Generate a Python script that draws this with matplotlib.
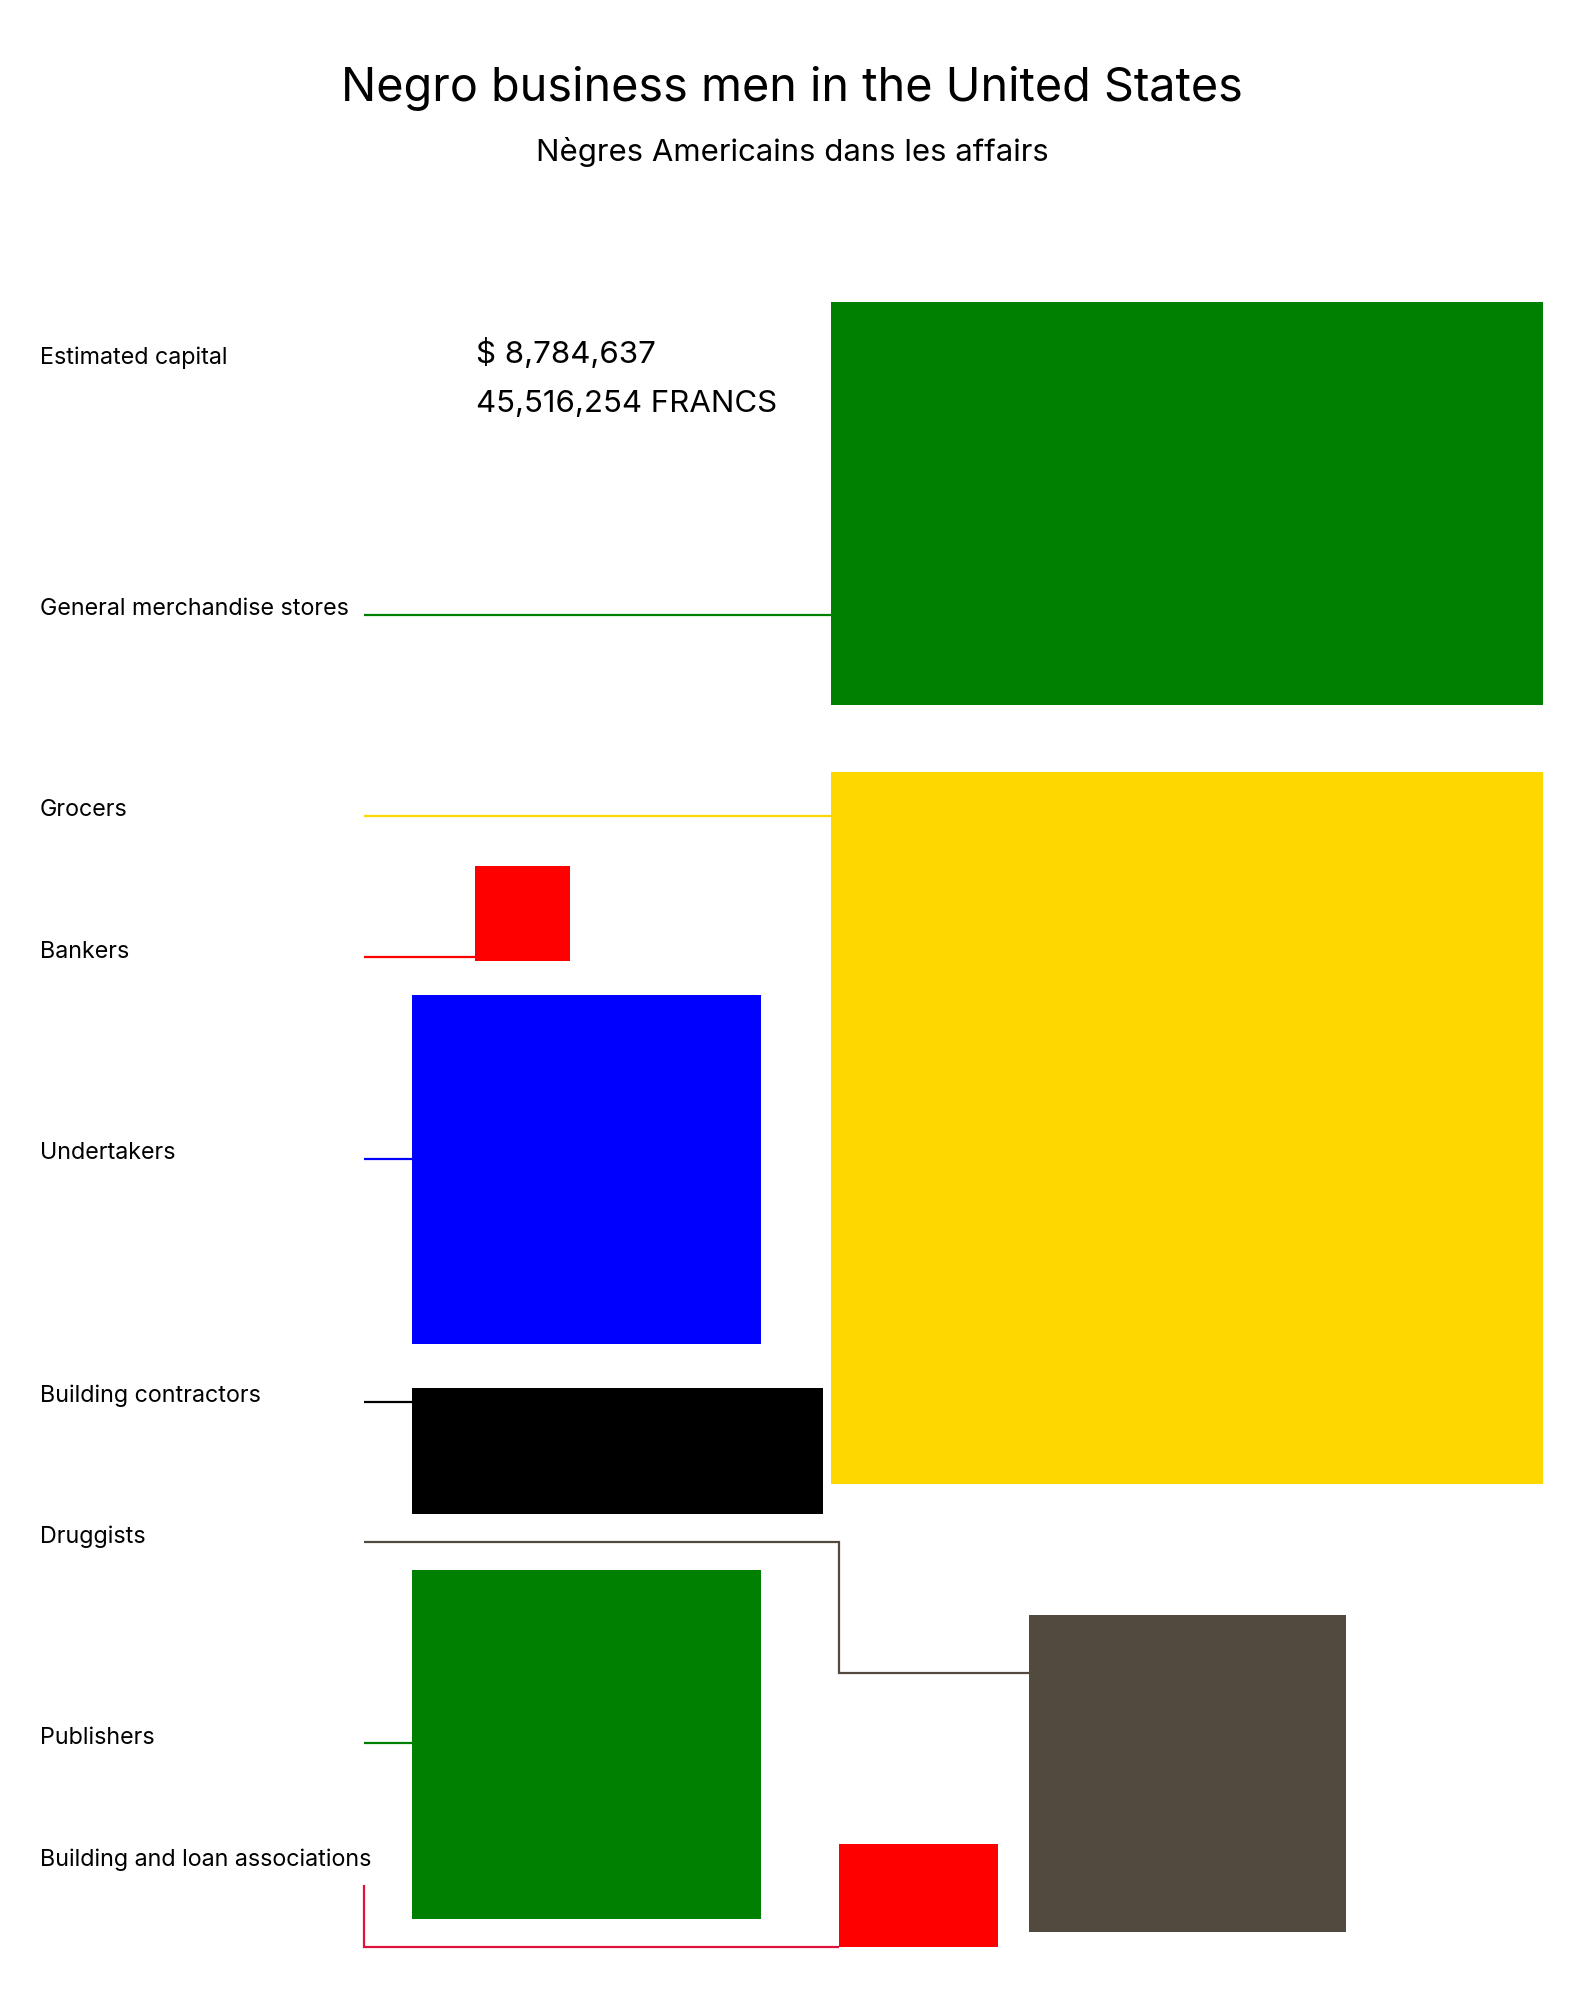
import numpy as np
import matplotlib.pyplot as plt
from matplotlib.patches import Rectangle

plt.rcParams['font.family'] = ['Inter', 'DejaVu Sans']

# number of businesses (read from square areas)
categories = ['General merchandise stores', 'Grocers', 'Bankers', 'Undertakers',
              'Building contractors', 'Druggists', 'Publishers',
              'Building and loan associations']
counts = [255, 450, 8, 108, 46, 89, 108, 14.5]
colors = ['#008000', '#FFD700', '#FF0000', '#0000FF', '#000000', '#534A3F',
          '#008000', '#FF0000']
line_colors = ['#008000', '#FFD700', '#FF0000', '#0000FF', '#000000', '#534A3F',
               '#008000', '#DC143C']
capital_usd = '$ 8,784,637'
capital_francs = '45,516,254 FRANCS'

# layout (pixel space): anchor of each block, fixed width for non-square blocks
UNIT = 1126.5  # px^2 per business
anchors = [(831, 302), (831, 772), (475, 866), (412, 995),
           (412, 1388), (1029, 1615), (412, 1570), (839, 1844)]
fixed_w = [712, None, None, None, 411, None, None, 159]
label_y = [615, 816, 958, 1159, 1402, 1543, 1744, 1866]
line_y = [615, 816, 957, 1159, 1402]

fig = plt.figure(figsize=(15.84, 20.16), dpi=100)
ax = fig.add_axes([0, 0, 1, 1])
ax.set_xlim(0, 1584)
ax.set_ylim(2016, 0)
ax.axis('off')

ax.text(792, 101, 'Negro business men in the United States', ha='center',
        va='baseline', fontsize=33.7)
ax.text(792, 161, 'Nègres Americains dans les affairs', ha='center',
        va='baseline', fontsize=22.4)

ax.text(40, 364, 'Estimated capital', va='baseline', fontsize=16.8)
ax.text(476, 363, capital_usd, va='baseline', fontsize=22.5)
ax.text(476, 412, capital_francs, va='baseline', fontsize=22.5)

boxes = []
for cat, n, col, (x0, y0), w, ly in zip(categories, counts, colors, anchors,
                                        fixed_w, label_y):
    area = n * UNIT
    if w is None:
        w = h = np.sqrt(area)
    else:
        h = area / w
    ax.add_patch(Rectangle((x0, y0), w, h, facecolor=col, edgecolor='none'))
    ax.text(40, ly, cat, va='baseline', fontsize=16.8)
    boxes.append((x0, y0, w, h))

# connector lines
lx = 364
lw = 1.6
for i, y in zip([0, 1, 2, 3, 4], line_y):
    x0, y0, w, h = boxes[i]
    ax.plot([lx, x0], [y, y], color=line_colors[i], lw=lw,
            solid_capstyle='butt')

x0, y0, w, h = boxes[6]
ax.plot([lx, x0], [1743, 1743], color=line_colors[6], lw=lw,
        solid_capstyle='butt')

# druggists: elbow connector
x0, y0, w, h = boxes[5]
ax.plot([lx, 839, 839, x0], [1542, 1542, 1673, 1673], color=line_colors[5],
        lw=lw, solid_joinstyle='miter', solid_capstyle='butt')

# building and loan: down then right
x0, y0, w, h = boxes[7]
ax.plot([lx, lx, x0], [1885, y0 + h, y0 + h], color=line_colors[7], lw=lw,
        solid_joinstyle='miter', solid_capstyle='butt')

fig.savefig('out.png', dpi=100, facecolor='white')
